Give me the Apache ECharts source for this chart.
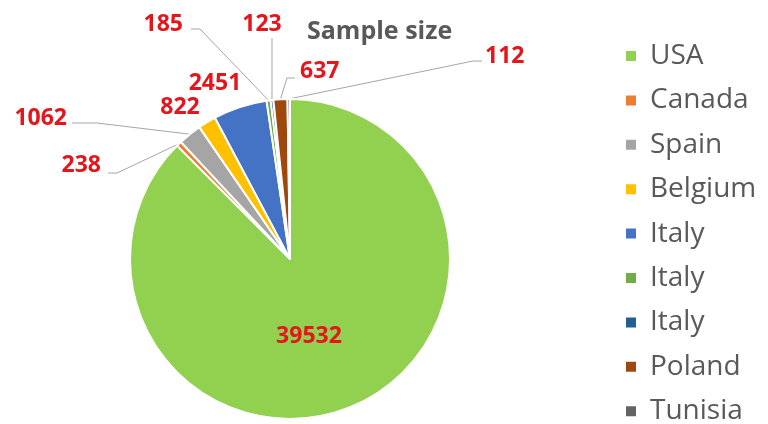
<!DOCTYPE html>
<html>
<head>
<meta charset="utf-8">
<script src="https://cdn.jsdelivr.net/npm/echarts@6/dist/echarts.min.js"></script>
<style>
  html, body { margin: 0; padding: 0; background: #fff; }
  #chart { width: 768px; height: 424px; }
</style>
</head>
<body>
<div id="chart"></div>
<script>
// Sample size per country
const countries = ['USA', 'Canada', 'Spain', 'Belgium', 'Italy', 'Italy', 'Italy', 'Poland', 'Tunisia'];
const sampleSizes = [39532, 238, 1062, 822, 2451, 185, 123, 637, 112];
const sliceColors = ['#92D050', '#ED7D31', '#A5A5A5', '#FFC000', '#4472C4', '#70AD47', '#255E91', '#9E480E', '#636363'];

// Where each value label sits, and how its leader line bends toward it
const labelSpots = [
  { x: 309, y: 336, align: 'center' },
  { x: 101, y: 165, align: 'right', bend: [117, 173], end: [108, 173] },
  { x: 67,  y: 118, align: 'right', bend: [97, 123],  end: [72, 123] },
  { x: 180, y: 107, align: 'center' },
  { x: 215, y: 83,  align: 'center' },
  { x: 183, y: 24,  align: 'right', bend: [200, 29], end: [191, 29] },
  { x: 262, y: 24,  align: 'center', riseTo: 38 },
  { x: 300, y: 71,  align: 'left',  bend: [287, 78], end: [295, 78] },
  { x: 485, y: 56,  align: 'left',  bend: [473, 61], end: [482, 61] }
];

// Countries repeat, so each slice gets its own key; the legend shows only the country
const keys = countries.map((c, i) => c + '|' + i);

const pieData = sampleSizes.map((v, i) => {
  const spot = labelSpots[i];
  const hasLine = !!(spot.bend || spot.riseTo);
  return {
    name: keys[i],
    value: v,
    itemStyle: { color: sliceColors[i] },
    label: { position: i === 0 ? 'inside' : 'outside' },
    labelLine: { show: hasLine }
  };
});

const chart = echarts.init(document.getElementById('chart'), null, { renderer: 'canvas' });

chart.setOption({
  animation: false,
  backgroundColor: '#ffffff',
  title: {
    text: 'Sample size',
    left: 302,
    top: 14,
    textStyle: {
      fontFamily: 'Open Sans',
      fontSize: 25,
      fontWeight: 'bold',
      color: '#595959'
    }
  },
  legend: {
    orient: 'vertical',
    left: 624,
    top: 42,
    height: 410,
    padding: 0,
    icon: 'rect',
    itemWidth: 12,
    itemHeight: 12,
    itemGap: 16.4,
    selectedMode: false,
    data: keys,
    formatter: (n) => n.split('|')[0],
    textStyle: {
      fontFamily: 'Open Sans',
      fontSize: 28,
      color: '#595959',
      padding: [0, 0, 0, 8]
    }
  },
  series: [{
    type: 'pie',
    center: [290, 259],
    radius: 160,
    startAngle: 90,
    clockwise: true,
    avoidLabelOverlap: false,
    itemStyle: { borderColor: '#ffffff', borderWidth: 2 },
    label: {
      show: true,
      formatter: (p) => String(p.value),
      fontFamily: 'Open Sans',
      fontSize: 23,
      fontWeight: 'bold',
      color: '#E4161C'
    },
    labelLine: {
      show: true,
      length: 10,
      length2: 10,
      smooth: false,
      lineStyle: { color: '#A6A6A6', width: 1 }
    },
    labelLayout: (params) => {
      const spot = labelSpots[params.dataIndex];
      const out = {
        x: spot.x,
        y: spot.y,
        align: spot.align,
        verticalAlign: 'middle'
      };
      const pts = params.labelLinePoints;
      if (pts && pts.length) {
        const start = pts[0];
        if (spot.bend) {
          out.labelLinePoints = [start, spot.bend, spot.end];
        } else if (spot.riseTo) {
          out.labelLinePoints = [start, [start[0], spot.riseTo], [start[0], spot.riseTo]];
        }
      }
      return out;
    },
    data: pieData
  }]
});
</script>
</body>
</html>
